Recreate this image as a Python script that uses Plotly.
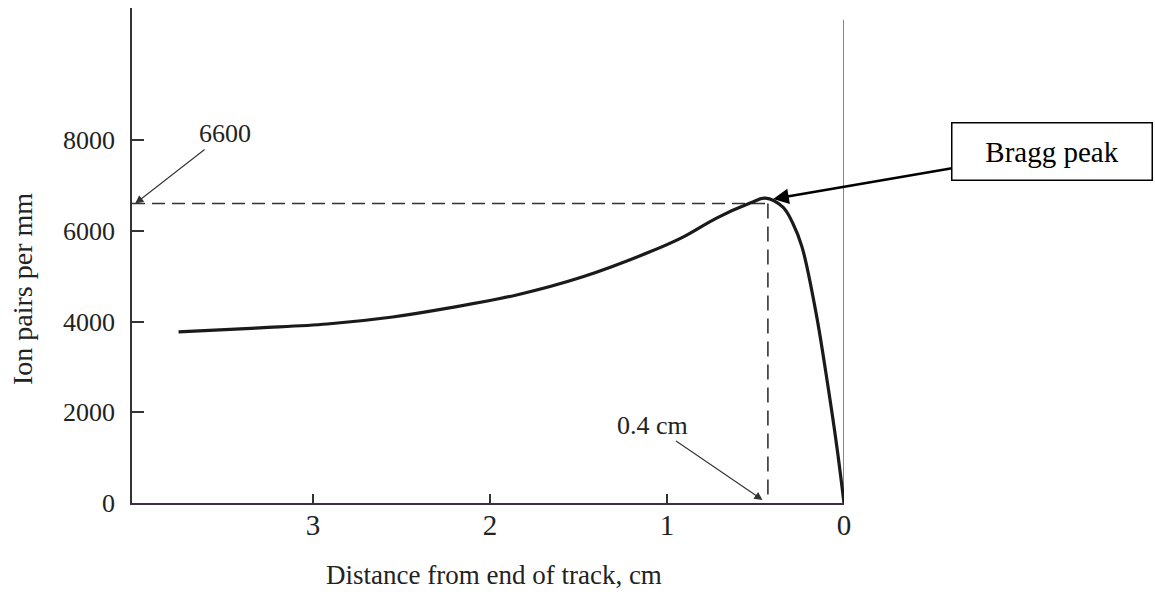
import plotly.graph_objects as go

# Data
distance_cm = [3.76, 3.30, 2.92, 2.55, 2.23, 1.85, 1.48, 1.10, 0.91, 0.72, 0.53,
               0.445, 0.345, 0.29, 0.237, 0.158, 0.096, 0.04, 0.0]
ion_pairs = [3770, 3860, 3945, 4100, 4300, 4585, 4980, 5530, 5860, 6280, 6610,
             6720, 6520, 6170, 5640, 4190, 2710, 1230, 0]

peak_x = 0.43
peak_level = 6600
x_left = 4.023
y_top = 10910
frame_top = 10650

x_ticks = [0, 1, 2, 3]
y_ticks = [0, 2000, 4000, 6000, 8000]

FONT = "Liberation Serif"
INK = "#222222"

fig = go.Figure()

# dashed guide lines
fig.add_trace(go.Scatter(x=[x_left, 0.44], y=[peak_level, peak_level], mode="lines",
                         line=dict(color="#333333", width=1.6, dash="13px,7px"),
                         hoverinfo="skip", showlegend=False))
fig.add_trace(go.Scatter(x=[peak_x, peak_x], y=[peak_level, 150], mode="lines",
                         line=dict(color="#333333", width=1.6, dash="15px,8px"),
                         hoverinfo="skip", showlegend=False))

# right frame line at x = 0
fig.add_trace(go.Scatter(x=[0, 0], y=[0, frame_top], mode="lines",
                         line=dict(color="#444444", width=1.3),
                         hoverinfo="skip", showlegend=False, cliponaxis=False))

# main curve
fig.add_trace(go.Scatter(x=distance_cm, y=ion_pairs, mode="lines",
                         line=dict(color="#1a1a1a", width=3.2, shape="spline", smoothing=1.0),
                         showlegend=False, cliponaxis=False))

fig.update_layout(
    width=1155, height=592,
    margin=dict(l=132, r=311, t=8, b=89),
    paper_bgcolor="white", plot_bgcolor="white",
    font=dict(family=FONT, color=INK, size=26),
    xaxis=dict(range=[x_left, 0], tickmode="array", tickvals=x_ticks,
               ticktext=[str(v) for v in x_ticks],
               ticks="inside", ticklen=9, tickwidth=1.5, tickcolor="#333333",
               showline=True, linecolor="#3a3040", linewidth=1.5,
               showgrid=False, zeroline=False, ticklabelstandoff=-5,
               tickfont=dict(family=FONT, size=29, color=INK)),
    yaxis=dict(range=[0, y_top], tickmode="array", tickvals=y_ticks,
               ticktext=[str(v) for v in y_ticks],
               ticks="inside", ticklen=12, tickwidth=1.5, tickcolor="#333333",
               showline=True, linecolor="#333333", linewidth=1.5,
               showgrid=False, zeroline=False, ticklabelstandoff=10,
               tickfont=dict(family=FONT, size=26, color=INK)),
)

annotations = [
    # axis titles
    dict(text="Distance from end of track, cm", xref="x", yref="paper",
         x=1.98, y=0, yshift=-72, showarrow=False, xanchor="center", yanchor="middle",
         font=dict(family=FONT, size=27, color=INK)),
    dict(text="Ion pairs per mm", xref="paper", yref="y", x=0, xshift=-110,
         y=4716, textangle=-90, showarrow=False, xanchor="center", yanchor="middle",
         font=dict(family=FONT, size=28, color=INK)),
    # 6600 callout
    dict(text="6600", xref="x", yref="y", x=4.005, y=peak_level, ax=90, ay=-70,
         showarrow=True, arrowhead=2, arrowsize=1.5, arrowwidth=1.1, arrowcolor="#333333",
         font=dict(family=FONT, size=26, color=INK)),
    # 0.4 cm callout
    dict(text="0.4 cm", xref="x", yref="y", x=0.46, y=66, ax=-110, ay=-75,
         showarrow=True, arrowhead=2, arrowsize=1.5, arrowwidth=1.1, arrowcolor="#333333",
         font=dict(family=FONT, size=26, color=INK)),
    # Bragg peak label
    dict(text="Bragg peak", xref="x", yref="y", x=0.40, y=6700, ax=279, ay=-48,
         showarrow=True, arrowhead=2, arrowsize=1.2, arrowwidth=2.6, arrowcolor="black",
         bordercolor="black", borderwidth=1.5, borderpad=2, bgcolor="white",
         width=195, height=52, align="center",
         font=dict(family=FONT, size=29, color="black")),
]
fig.update_layout(annotations=annotations)

fig.write_html("out.html")
